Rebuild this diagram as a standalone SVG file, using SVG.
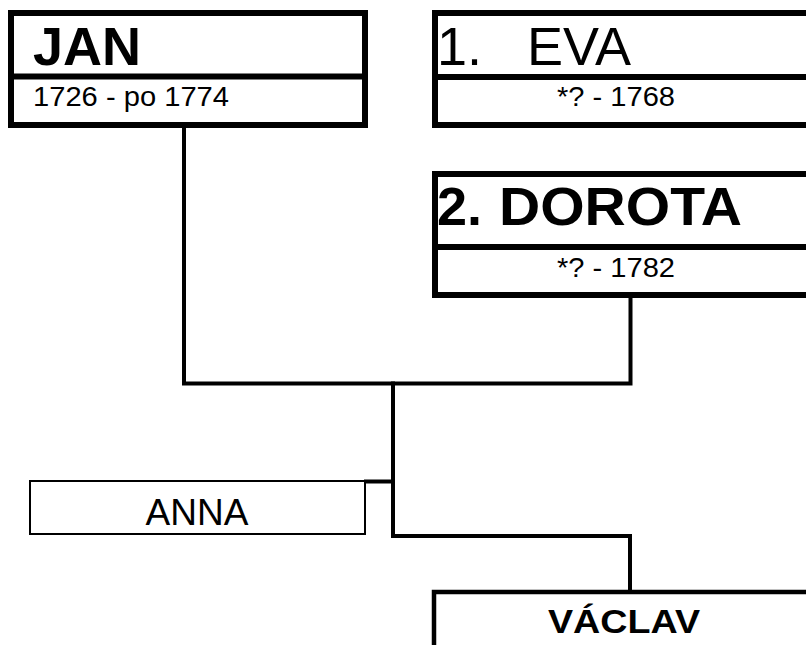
<svg xmlns="http://www.w3.org/2000/svg" width="806" height="645" viewBox="0 0 806 645">
<style>
.box{fill:#fff;stroke:#000;stroke-width:6}
.thin{fill:#fff;stroke:#000;stroke-width:2}
.div{stroke:#000;stroke-width:6}
.con{fill:none;stroke:#000;stroke-width:4;stroke-linejoin:miter;stroke-linecap:square}
text{font-family:"Liberation Sans",Arial,sans-serif;fill:#000}
.big{font-size:54px}
.b{font-weight:bold}
.sub{font-size:28px}
</style>
<rect width="806" height="645" fill="#fff"/>
<g id="connectors">
<path class="con" d="M184 128 V383.5 H630.5 V298"/>
<path class="con" d="M393 383.5 V536 H630 V590"/>
<path class="con" d="M366 481.5 H393"/>
</g>
<g id="jan">
<rect class="box" x="11" y="13" width="354" height="112"/>
<line class="div" x1="11" y1="76.5" x2="365" y2="76.5"/>
<text class="big b" x="33" y="65">JAN</text>
<text class="sub" x="33" y="106" textLength="196" lengthAdjust="spacingAndGlyphs">1726 - po 1774</text>
</g>
<g id="eva">
<rect class="box" x="435" y="13" width="400" height="112"/>
<line class="div" x1="435" y1="77" x2="835" y2="77"/>
<text class="big" x="437" y="65">1.<tspan x="527">EVA</tspan></text>
<text class="sub" x="616" y="106" text-anchor="middle" textLength="118" lengthAdjust="spacingAndGlyphs">*? - 1768</text>
</g>
<g id="dorota">
<rect class="box" x="435" y="174" width="400" height="121"/>
<line class="div" x1="435" y1="247" x2="835" y2="247"/>
<text class="big b" x="437" y="225">2.<tspan x="499" textLength="243" lengthAdjust="spacingAndGlyphs">DOROTA</tspan></text>
<text class="sub" x="616" y="277" text-anchor="middle" textLength="118" lengthAdjust="spacingAndGlyphs">*? - 1782</text>
</g>
<g id="anna">
<rect class="thin" x="30" y="481" width="335" height="53"/>
<text x="197" y="525" font-size="37" text-anchor="middle">ANNA</text>
</g>
<g id="vaclav">
<rect fill="#fff" stroke="#000" stroke-width="4.5" x="434" y="592" width="400" height="100"/>
<text class="b" x="624" y="633" font-size="34" text-anchor="middle" textLength="152" lengthAdjust="spacingAndGlyphs">VÁCLAV</text>
</g>
</svg>
